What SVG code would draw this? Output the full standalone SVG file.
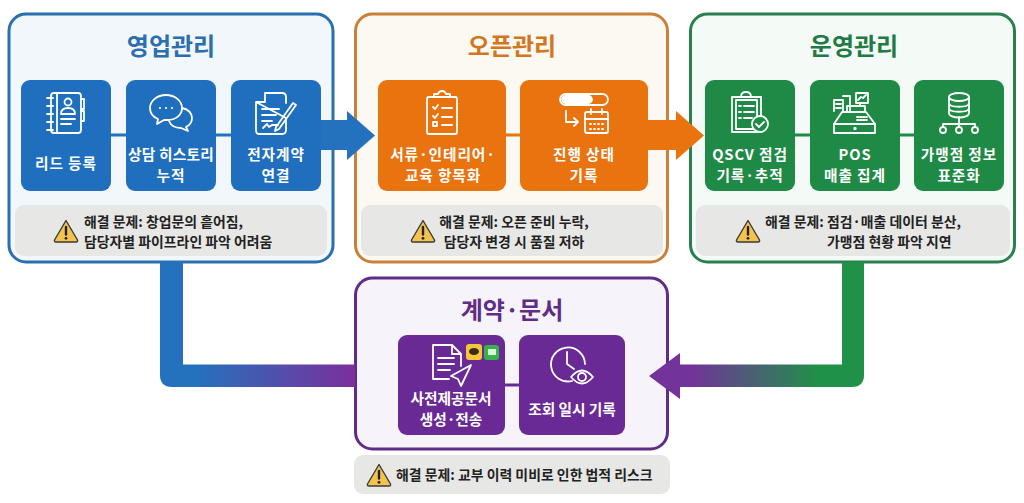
<svg xmlns="http://www.w3.org/2000/svg" width="1024" height="503" viewBox="0 0 1024 503">
<style>
text{font-family:"Noto Sans CJK KR","Noto Sans",sans-serif;font-weight:700}
.t{font-size:24px;text-anchor:middle}
.c{font-size:14.700px;letter-spacing:.9px;fill:#fff;text-anchor:middle}
.d{letter-spacing:0}
.p{font-size:13.900px;fill:#222}
.m{text-anchor:middle}
.i{fill:none;stroke:#fff;stroke-width:1.800;stroke-linecap:round;stroke-linejoin:round}
.bar{fill:#e7e7e6}
.link{stroke-width:3;fill:none}
</style>
<defs>
<linearGradient id="gb" gradientUnits="userSpaceOnUse" x1="195" y1="0" x2="355" y2="0"><stop offset="0" stop-color="#2472bd"/><stop offset="1" stop-color="#7b2f9c"/></linearGradient>
<linearGradient id="gg" gradientUnits="userSpaceOnUse" x1="820" y1="0" x2="690" y2="0"><stop offset="0" stop-color="#1f9148"/><stop offset="1" stop-color="#72339a"/></linearGradient>
<g id="warn"><path d="M12 1.500 L23.500 21 Q24 23 22 23 H2 Q0 23 .5 21 Z" fill="#f4c34f" stroke="#3a3a3a" stroke-width="1.400" stroke-linejoin="round"/><path d="M12 8V15.500" stroke="#222" stroke-width="2.400" stroke-linecap="round"/><circle cx="12" cy="19.300" r="1.400" fill="#222"/></g>
</defs>
<rect width="1024" height="503" fill="#fff"/>

<g id="panel-sales"><rect x="9" y="14" width="324" height="248" rx="17" fill="#f2f7fc" stroke="#2b70ae" stroke-width="3"/><text class="t" x="171" y="55" fill="#2b6fae">영업관리</text></g>
<g id="panel-open"><rect x="355.500" y="14" width="312" height="248" rx="17" fill="#fcf9f3" stroke="#c9803a" stroke-width="3"/><text class="t" x="512" y="55" fill="#d4761c">오픈관리</text></g>
<g id="panel-ops"><rect x="690.500" y="14" width="324" height="248" rx="17" fill="#f4faf5" stroke="#2a7f50" stroke-width="3"/><text class="t" x="854" y="55" fill="#217a45">운영관리</text></g>
<g id="panel-contract"><rect x="355.500" y="278" width="312" height="171" rx="17" fill="#f7f3fb" stroke="#5f2d85" stroke-width="3"/><text class="t" x="512" y="319" fill="#5f2d85">계약·문서</text></g>

<g id="connectors">
<path class="link" stroke="#2472bd" d="M111 135H126M216 135H231"/>
<path class="link" stroke="#e8730f" d="M506 135H520"/>
<path class="link" stroke="#1f8a45" d="M795 135H810M900 135H914"/>
<path class="link" stroke="#6a2a96" d="M505 385H519"/>
<path d="M321 120H347V111L375 135.500L347 160V150H321Z" fill="#2472bd"/>
<path d="M648 120H676V111L704 135.500L676 160V150H648Z" fill="#e8730f"/>
<path d="M160 262H183V364.500H355V387H172Q160 387 160 375Z" fill="url(#gb)"/>
<path d="M842 262H864V375Q864 387 852 387H680V399L649 376L680 353V364.500H842Z" fill="url(#gg)"/>
</g>

<g id="card-lead"><rect x="21" y="80" width="90" height="111" rx="9" fill="#1f6fbe"/>
<g class="i"><rect x="51" y="93" width="30" height="40" rx="3"/><path d="M57 93V133M47 98h6M47 106h6M47 114h6M47 122h6M47 130h6M81 99h3v10h-3M81 111h3v10h-3"/><circle cx="68" cy="102" r="3.500"/><path d="M61 114q0-6 7-6t7 6zM61 119h14M61 124h10"/></g>
<text class="c" x="66" y="169">리드 등록</text></g>
<g id="card-history"><rect x="126" y="80" width="90" height="111" rx="9" fill="#1f6fbe"/>
<g class="i"><path d="M166 95c-9 0-16 6-16 13 0 5 3 9 8 11l-1 5 7-4h3c9 0 15-5 15-12s-7-13-16-13z"/><path d="M182 108c6 1 10 5 10 10 0 4-2 7-6 9l2 4-7-3c-5 0-10-2-12-7"/><path d="M160 108h0M166 108h0M172 108h0" stroke-width="2.200"/></g>
<text class="c" x="171" y="160"><tspan style="letter-spacing:.2px">상담 히스토리</tspan><tspan x="171" dy="21.300">누적</tspan></text></g>
<g id="card-esign"><rect x="231" y="80" width="90" height="111" rx="9" fill="#1f6fbe"/>
<g class="i"><path d="M265 93H282Q286 93 286 97V103M286 118V130Q286 134 282 134H259Q256 134 256 130V102ZM265 93V102H256"/><path d="M262 109H279M262 115H276M262 121H272"/><path d="M263 128l4-4 2 3 3-2h6"/><path d="M276 127l17-24 3 2-17 24-4 2z"/></g>
<text class="c" x="276" y="160">전자계약<tspan x="276" dy="21.300">연결</tspan></text></g>

<g id="card-items"><rect x="378" y="80" width="128" height="111" rx="9" fill="#e8730f"/>
<g class="i"><rect x="427" y="97" width="30" height="37" rx="2"/><path d="M434 97v-3h4q1-3 4-3t4 3h4v3z"/><path d="M433 107l2 2 3-4M433 116l2 2 3-4M442 108h10M442 117h10M442 125h10"/><rect x="433" y="122" width="4" height="4"/></g>
<text class="c" x="443" y="160">서류·인테리어·<tspan x="443" dy="21.300">교육 항목화</tspan></text></g>
<g id="card-status"><rect x="520" y="80" width="128" height="111" rx="9" fill="#e8730f"/>
<g class="i"><rect x="560" y="94" width="48" height="11" rx="5.500"/><rect x="562" y="96" width="30" height="7" rx="3.500" fill="#fff"/><path d="M566 111V122H578M574 118l4 4-4 4"/><rect x="585" y="112" width="23" height="21" rx="2"/><path d="M585 119H608M591 109v5M602 109v5"/><path d="M590 124h13M590 129h13" stroke-dasharray="1 3"/></g>
<text class="c" x="584" y="160">진행 상태<tspan x="584" dy="21.300">기록</tspan></text></g>

<g id="card-qscv"><rect x="705" y="80" width="90" height="111" rx="9" fill="#1f8a45"/>
<g class="i"><rect x="732" y="97" width="29" height="35"/><rect x="736" y="100" width="21" height="29"/><path d="M741 97q0-5 5-5t5 5zM739 106h2M744 106h10M739 112h2M744 112h10M739 118h2M744 118h8"/><circle cx="760" cy="124" r="8" fill="#1f8a45"/><path d="M756 124l3 3 5-5"/></g>
<text class="c" x="750" y="160">QSCV 점검<tspan x="750" dy="21.300">기록·추적</tspan></text></g>
<g id="card-pos"><rect x="810" y="80" width="90" height="111" rx="9" fill="#1f8a45"/>
<g class="i"><path d="M834 111V100h9v11"/><path d="M843 96h7v15M836 104h5M836 108h5"/><rect x="856" y="93" width="12" height="10"/><path d="M858 100l3-3 2 1 3-3M860 103v3"/><rect x="847" y="106" width="18" height="6"/><path d="M842 112H866L875 124V133H834V124Z"/><path d="M857 117h10M857 120h10" stroke-dasharray="1.500 1.500"/><path d="M834 124H875"/><circle cx="855" cy="128.500" r=".8"/></g>
<text class="c" x="855" y="160">POS<tspan x="855" dy="21.300">매출 집계</tspan></text></g>
<g id="card-standard"><rect x="914" y="80" width="90" height="111" rx="9" fill="#1f8a45"/>
<g class="i"><ellipse cx="959" cy="97" rx="10" ry="4"/><path d="M949 97V113C949 119 969 119 969 113V97M949 103C949 108 969 108 969 103M949 108C949 113 969 113 969 108"/><path d="M959 117V127M943 127V124H975V127"/><circle cx="943" cy="130" r="3"/><circle cx="959" cy="130" r="3"/><circle cx="975" cy="130" r="3"/></g>
<text class="c" x="959" y="160">가맹점 정보<tspan x="959" dy="21.300">표준화</tspan></text></g>

<g id="card-docs"><rect x="398" y="335" width="107" height="100" rx="9" fill="#6a2a96"/>
<g class="i"><path d="M433 345H452L461 354V366M452 345V354H461M433 345V379H449"/><path d="M438 358H454M438 364H454M438 370H450"/><path d="M471 365L451 376L458 379L461 386Z"/></g>
<rect x="466" y="344" width="16" height="16" rx="3" fill="#f5c63a"/><ellipse cx="474" cy="351.500" rx="5" ry="3.500" fill="#3a2a1a"/>
<rect x="484" y="345" width="15" height="15" rx="3" fill="#37b34a"/><rect x="488" y="349" width="8" height="6" fill="#d8f5d8"/>
<text class="c d" x="451" y="404">사전제공문서<tspan x="451" dy="21.300">생성·전송</tspan></text></g>
<g id="card-log"><rect x="519" y="335" width="106" height="100" rx="9" fill="#6a2a96"/>
<g class="i"><path d="M572 381A17 17 0 1 1 585 364"/><path d="M567 352V364L574 369"/><path d="M571 377Q582 364 593 377Q582 390 571 377Z"/><circle cx="582" cy="377" r="4"/></g>
<text class="c d" x="572" y="415">조회 일시 기록</text></g>

<g id="issue-sales"><rect class="bar" x="15" y="205" width="312" height="51" rx="9"/><use href="#warn" x="54" y="219"/>
<text class="p" x="84" y="227">해결 문제: 창업문의 흩어짐,<tspan x="84" dy="20.200">담당자별 파이프라인 파악 어려움</tspan></text></g>
<g id="issue-open"><rect class="bar" x="361" y="205" width="302" height="51" rx="9"/><use href="#warn" x="411" y="219"/>
<text class="p m" x="514" y="227">해결 문제: 오픈 준비 누락,<tspan x="514" dy="20.200">담당자 변경 시 품질 저하</tspan></text></g>
<g id="issue-ops"><rect class="bar" x="696" y="205" width="314" height="51" rx="9"/><use href="#warn" x="736" y="219"/>
<text class="p" x="765" y="227">해결 문제: 점검·매출 데이터 분산,<tspan x="827" dy="20.200">가맹점 현황 파악 지연</tspan></text></g>
<g id="issue-contract"><rect class="bar" x="354" y="455" width="316" height="39" rx="9"/><use href="#warn" x="367" y="463"/>
<text class="p" x="396" y="480">해결 문제: 교부 이력 미비로 인한 법적 리스크</text></g>
</svg>
